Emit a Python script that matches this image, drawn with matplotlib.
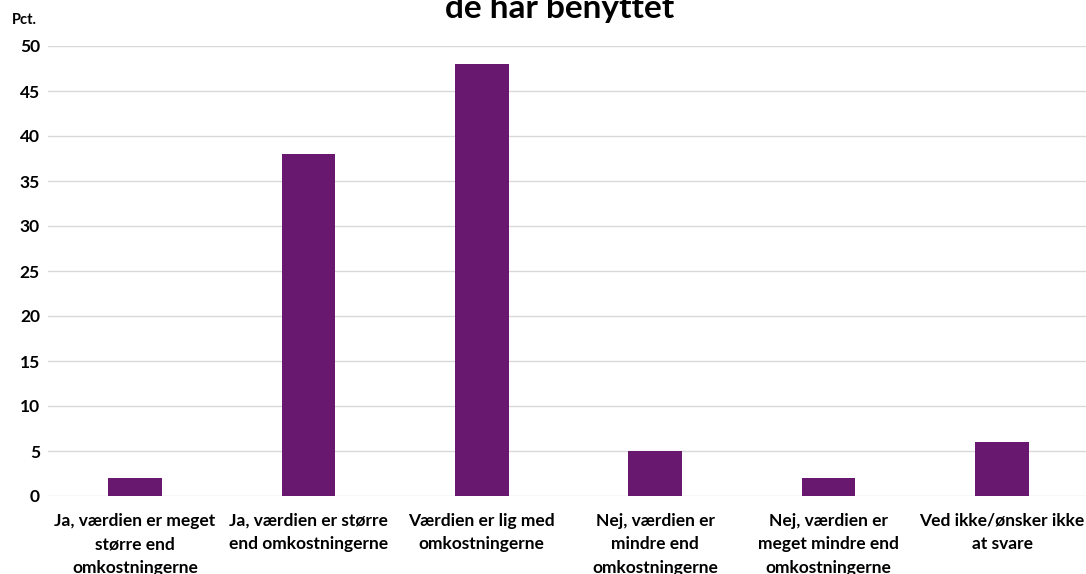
import matplotlib
matplotlib.use("Agg")
import matplotlib.pyplot as plt

categories = [
    "Ja, værdien er meget\nstørre end\nomkostningerne",
    "Ja, værdien er større\nend omkostningerne",
    "Værdien er lig med\nomkostningerne",
    "Nej, værdien er\nmindre end\nomkostningerne",
    "Nej, værdien er\nmeget mindre end\nomkostningerne",
    "Ved ikke/ønsker ikke\nat svare",
]
values = [2, 38, 48, 5, 2, 6]
yticks = [0, 5, 10, 15, 20, 25, 30, 35, 40, 45, 50]
title = "de har benyttet"
ylabel = "Pct."

plt.rcParams['font.family'] = ['Lato', 'DejaVu Sans']

W, H = 1086, 574
fig = plt.figure(figsize=(W / 100, H / 100), dpi=100)
left, right = 48.3, 1088.7
bottom, top = 496, 46
ax = fig.add_axes([left / W, 1 - bottom / H, (right - left) / W, (bottom - top) / H])

x = list(range(len(categories)))
ax.bar(x, values, width=0.31, color="#68186E", zorder=3)
ax.set_xlim(-0.5, len(categories) - 0.5)
ax.set_ylim(0, 50)
ax.set_yticks(yticks)
ax.set_yticklabels([str(t) for t in yticks], fontsize=12.5, fontweight='bold')
ax.set_xticks(x)
ax.set_xticklabels(categories, fontsize=12.5, fontweight='bold', linespacing=1.6)
ax.tick_params(axis='both', length=0, pad=6)
ax.tick_params(axis='x', pad=12)
ax.grid(axis='y', color="#D9D9D9", linewidth=1, zorder=0)
for s in ax.spines.values():
    s.set_visible(False)

fig.text(12 / W, 1 - 20 / H, ylabel, fontsize=10.5, fontweight='bold', va='center', ha='left')
fig.text(560 / W, 1 - 18 / H, title, fontsize=24, fontweight='bold', ha='center', va='baseline')

fig.savefig("out.png", dpi=100)
